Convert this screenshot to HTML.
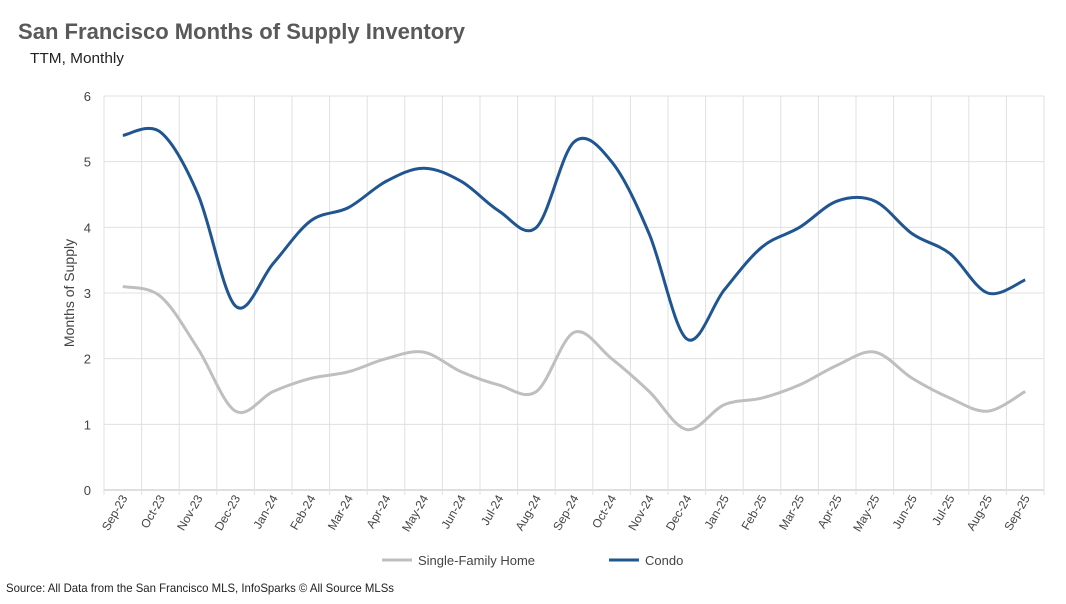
<!DOCTYPE html>
<html><head><meta charset="utf-8"><style>
body{margin:0;background:#fff;width:1066px;height:604px;overflow:hidden;font-family:"Liberation Sans",sans-serif}
svg{display:block}
</style></head><body>
<svg id="c" width="1066" height="604">
<text x="18" y="39" font-size="22" font-weight="bold" fill="#595959" textLength="447" lengthAdjust="spacingAndGlyphs">San Francisco Months of Supply Inventory</text>
<text x="30" y="63" font-size="15" fill="#222" textLength="94" lengthAdjust="spacingAndGlyphs">TTM, Monthly</text>
<text transform="translate(74,293) rotate(-90)" font-size="14" fill="#444" text-anchor="middle">Months of Supply</text>
<text x="6" y="592" font-size="12" fill="#222" textLength="388" lengthAdjust="spacingAndGlyphs">Source: All Data from the San Francisco MLS, InfoSparks © All Source MLSs</text>
<g id="grid"></g><g id="lines"></g>
<g>
<line x1="382" y1="560" x2="412" y2="560" stroke="#bfbfbf" stroke-width="3"/>
<text x="418" y="565" font-size="13" fill="#444">Single-Family Home</text>
<line x1="609" y1="560" x2="639" y2="560" stroke="#1f5591" stroke-width="3"/>
<text x="645" y="565" font-size="13" fill="#444">Condo</text>
</g>
</svg>
<script>
const categories=["Sep-23","Oct-23","Nov-23","Dec-23","Jan-24","Feb-24","Mar-24","Apr-24","May-24","Jun-24","Jul-24","Aug-24","Sep-24","Oct-24","Nov-24","Dec-24","Jan-25","Feb-25","Mar-25","Apr-25","May-25","Jun-25","Jul-25","Aug-25","Sep-25"];
const condo=[5.4,5.45,4.5,2.8,3.45,4.1,4.3,4.7,4.9,4.7,4.25,4.0,5.3,5.0,3.9,2.3,3.05,3.7,4.0,4.4,4.4,3.9,3.6,3.0,3.2];
const sfh=[3.1,2.95,2.15,1.2,1.5,1.7,1.8,2.0,2.1,1.8,1.6,1.5,2.4,2.0,1.5,0.92,1.3,1.4,1.6,1.9,2.1,1.7,1.4,1.2,1.5];
const yTicks=[0,1,2,3,4,5,6];
const NS="http://www.w3.org/2000/svg";
const L=104,R=1044,T=96,B=490,yMax=6;
const bw=(R-L)/categories.length;
const x=i=>L+bw*(i+0.5);
const y=v=>B-(v/yMax)*(B-T);
const g=document.getElementById('grid'),lg=document.getElementById('lines');
function mk(t,a,p){const e=document.createElementNS(NS,t);for(const k in a)e.setAttribute(k,a[k]);p.appendChild(e);return e;}
yTicks.forEach(v=>{
 const ln=mk('line',{x1:L,x2:R,y1:y(v),y2:y(v),stroke:v===0?'#bfbfbf':'#e0e0e0','stroke-width':1},g);
 
 
 const t=mk('text',{x:91,y:y(v)+5,'font-size':13,fill:'#444','text-anchor':'end'},g);t.textContent=v;
 
 
});
for(let i=0;i<=categories.length;i++){
 const vl=mk('line',{x1:L+bw*i,x2:L+bw*i,y1:T,y2:B+5,stroke:'#e0e0e0','stroke-width':1},g);
 
 
}
categories.forEach((c,i)=>{
 const t=mk('text',{transform:`translate(${x(i)+5},${B+8}) rotate(-60)`,'font-size':12,fill:'#444','text-anchor':'end'},g);t.textContent=c;
 
 
});
function path(vals){
 const p=vals.map((v,i)=>[x(i),y(v)]);let d=`M${p[0][0]},${p[0][1]}`;
 for(let i=0;i<p.length-1;i++){const p0=p[i-1]||p[i],p1=p[i],p2=p[i+1],p3=p[i+2]||p2;
  const c1=[p1[0]+(p2[0]-p0[0])/6,p1[1]+(p2[1]-p0[1])/6],c2=[p2[0]-(p3[0]-p1[0])/6,p2[1]-(p3[1]-p1[1])/6];
  d+=`C${c1[0]},${c1[1]} ${c2[0]},${c2[1]} ${p2[0]},${p2[1]}`;}
 return d;
}
const s1=mk('path',{d:path(sfh),fill:'none',stroke:'#bfbfbf','stroke-width':3},lg);


const s2=mk('path',{d:path(condo),fill:'none',stroke:'#1f5591','stroke-width':3},lg);


</script>
</body></html>
